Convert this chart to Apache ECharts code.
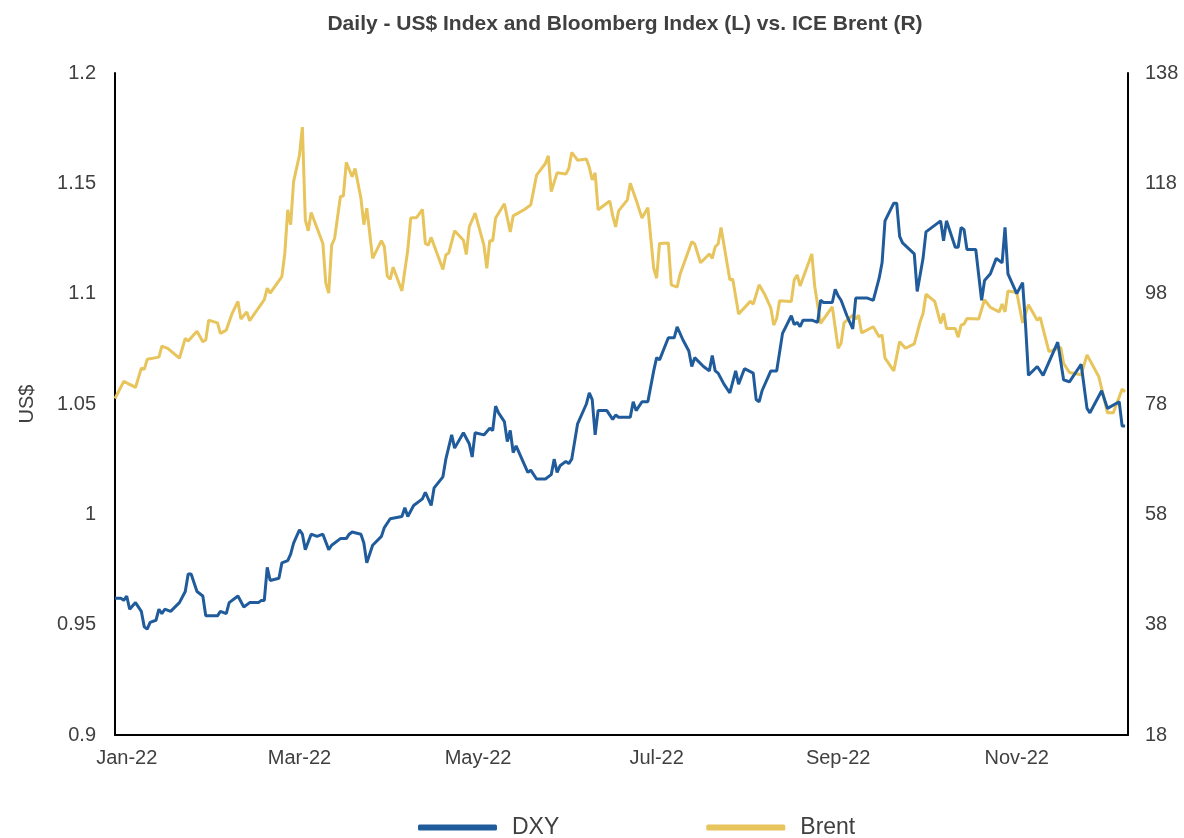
<!DOCTYPE html>
<html><head><meta charset="utf-8">
<script src="https://cdn.jsdelivr.net/npm/echarts@6/dist/echarts.min.js"></script>
<style>html,body{margin:0;padding:0;background:#fff}#c{width:1184px;height:838px}</style>
</head><body><div id="c"></div>
<script>
// Days are counted from 2022-01-01 (day 0)
const startDay = -4, endDay = 342;
const tickDates = ['2022-01-01','2022-03-01','2022-05-01','2022-07-01','2022-09-01','2022-11-01'];
const tickLabels = ['Jan-22','Mar-22','May-22','Jul-22','Sep-22','Nov-22'];

const dxyDays = [-4,-2,-1,0,1,3,5,6,7,8,10,11,12,13,15,18,20,21,22,24,26,27,28,31,32,34,35,38,40,42,45,46,47,48,49,52,53,55,56,57,59,60,61,63,65,67,69,70,73,75,76,77,80,81,82,84,87,88,90,94,95,96,98,101,102,104,105,108,109,111,112,115,117,118,119,122,124,125,126,127,129,130,131,132,133,137,138,140,143,145,146,147,148,150,151,152,154,157,158,159,160,161,164,166,167,168,172,173,174,176,178,180,181,182,185,187,188,190,192,193,194,197,199,200,201,202,204,206,208,209,211,214,215,216,217,220,222,224,227,228,229,230,231,234,236,237,238,241,242,243,244,246,247,248,249,250,253,255,257,258,259,262,263,264,265,269,270,272,273,278,279,280,283,284,285,286,287,290,292,293,295,297,299,300,301,304,306,307,308,311,313,318,320,322,326,328,329,333,335,339,340,341];
const dxyValues = [0.962,0.962,0.961,0.963,0.957,0.960,0.956,0.949,0.948,0.951,0.952,0.957,0.955,0.957,0.956,0.960,0.965,0.973,0.973,0.965,0.963,0.954,0.954,0.954,0.956,0.955,0.960,0.963,0.958,0.960,0.960,0.961,0.961,0.976,0.970,0.971,0.978,0.979,0.982,0.987,0.993,0.991,0.984,0.991,0.990,0.991,0.984,0.986,0.989,0.989,0.991,0.992,0.991,0.987,0.978,0.986,0.990,0.994,0.998,0.999,1.003,0.999,1.004,1.007,1.010,1.004,1.012,1.017,1.025,1.036,1.030,1.037,1.032,1.026,1.037,1.036,1.039,1.038,1.049,1.046,1.042,1.033,1.038,1.028,1.031,1.019,1.020,1.016,1.016,1.018,1.025,1.019,1.022,1.024,1.023,1.025,1.041,1.050,1.055,1.052,1.036,1.047,1.047,1.043,1.045,1.044,1.044,1.051,1.047,1.051,1.051,1.065,1.071,1.070,1.080,1.080,1.085,1.079,1.074,1.067,1.071,1.067,1.065,1.072,1.065,1.064,1.059,1.055,1.065,1.059,1.066,1.064,1.052,1.051,1.056,1.065,1.065,1.082,1.090,1.086,1.087,1.085,1.088,1.088,1.087,1.097,1.096,1.096,1.102,1.099,1.097,1.090,1.087,1.084,1.098,1.098,1.098,1.097,1.107,1.114,1.133,1.141,1.141,1.126,1.123,1.118,1.101,1.116,1.128,1.133,1.124,1.133,1.121,1.121,1.130,1.129,1.120,1.120,1.097,1.106,1.109,1.116,1.114,1.130,1.109,1.100,1.105,1.086,1.063,1.067,1.063,1.078,1.061,1.060,1.068,1.048,1.046,1.056,1.048,1.051,1.040,1.040];

const brentDays = [-4,-1,3,5,6,7,11,12,14,18,20,21,24,26,27,28,31,32,34,36,38,39,41,42,45,47,48,49,53,54,55,56,57,59,60,61,62,63,67,68,69,70,71,73,74,75,77,78,80,81,82,84,87,88,89,90,91,94,96,97,99,101,102,103,104,108,109,110,112,115,116,117,119,122,123,124,125,126,129,131,132,136,138,140,143,144,145,147,150,151,152,154,157,158,159,160,161,165,166,167,168,171,172,174,176,178,180,181,182,185,186,188,189,193,194,196,199,200,201,202,203,206,207,209,213,214,216,218,220,221,222,223,227,228,229,230,234,235,237,241,243,244,245,248,249,250,251,255,257,258,259,262,264,266,269,271,272,273,276,278,279,280,283,284,285,286,287,291,293,295,298,299,300,301,304,306,308,311,312,315,319,320,322,326,328,332,335,337,340,341];
const brentValues = [79.0,82.1,81.0,84.5,84.3,86.1,86.5,88.5,88.1,86.3,89.9,89.4,91.2,89.3,89.6,93.2,92.7,90.8,91.4,94.4,96.6,93.4,94.7,93.1,95.4,96.9,99.0,98.1,101.1,105.3,113.2,110.5,118.3,123.1,128.2,111.4,109.4,112.7,107.1,99.9,98.1,106.8,108.0,115.6,115.7,121.8,119.2,120.7,115.3,110.5,113.5,104.4,107.6,106.5,101.2,100.6,102.8,98.5,105.9,111.7,111.8,113.3,107.1,106.8,108.2,102.4,105.0,105.4,109.4,107.7,105.1,110.1,112.6,106.8,102.6,107.6,107.6,111.7,114.3,109.2,112.1,113.3,114.1,119.5,121.6,123.0,116.5,119.9,119.7,120.7,123.6,122.2,122.4,120.9,118.6,119.9,113.2,114.8,112.1,110.1,113.0,115.0,118.0,115.0,111.7,113.6,102.6,100.8,107.1,107.2,99.6,99.2,101.5,107.4,107.0,103.6,105.2,104.4,106.5,107.0,110.0,100.5,100.6,94.3,96.6,96.1,99.6,97.8,95.4,92.3,93.5,96.7,96.6,100.5,101.4,99.4,105.2,99.3,92.6,95.6,88.1,89.0,92.7,94.1,93.4,94.1,90.9,92.0,90.2,90.5,86.3,84.0,89.3,88.1,88.9,92.9,94.4,97.9,96.6,92.6,94.4,91.7,91.7,90.1,92.3,92.5,93.5,93.4,96.9,95.5,94.7,96.1,94.7,98.5,98.2,92.7,96.0,93.2,93.7,87.5,88.3,85.4,83.7,83.3,86.9,83.0,76.4,76.4,80.7,80.2];

const categories = [];
for (let d = startDay; d <= endDay; d++) {
  categories.push(new Date(Date.UTC(2022, 0, 1 + d)).toISOString().slice(0, 10));
}
const toSeries = (days, vals) => days.map((d, i) => [d - startDay, vals[i]]);

const labelColor = '#404040';
const font = 'Liberation Sans, Arial, Helvetica, sans-serif';
const chart = echarts.init(document.getElementById('c'));
chart.setOption({
  animation: false,
  backgroundColor: '#fff',
  title: {
    text: 'Daily - US$ Index and Bloomberg Index (L) vs. ICE Brent (R)',
    left: 620, top: 9, textAlign: 'center',
    textStyle: { fontFamily: font, fontSize: 21, fontWeight: 'bold', color: '#404040' }
  },
  legend: {
    left: 413, top: 811,
    itemWidth: 79, itemHeight: 6, itemGap: 147, icon: 'roundRect',
    textStyle: { fontFamily: font, fontSize: 23, color: labelColor, padding: [0, 0, 0, 10] },
    data: ['DXY', 'Brent']
  },
  grid: { left: 115, right: 56, top: 73, bottom: 103, containLabel: false },
  xAxis: {
    type: 'category', data: categories, boundaryGap: false,
    axisLine: { show: true, lineStyle: { color: '#000', width: 2 } },
    axisTick: { show: false },
    splitLine: { show: false },
    axisLabel: {
      interval: (i, v) => tickDates.includes(v),
      formatter: v => tickLabels[tickDates.indexOf(v)],
      fontFamily: font, fontSize: 20, color: labelColor, margin: 13
    }
  },
  yAxis: [{
    type: 'value', min: 0.9, max: 1.2, interval: 0.05, position: 'left',
    name: 'US$', nameLocation: 'middle', nameRotate: 90, nameGap: 78,
    nameTextStyle: { fontFamily: font, fontSize: 20, color: labelColor },
    axisLine: { show: true, lineStyle: { color: '#000', width: 2 } },
    axisTick: { show: false }, splitLine: { show: false },
    axisLabel: { formatter: v => String(+v.toFixed(2)), fontFamily: font, fontSize: 20, color: labelColor, margin: 19 }
  }, {
    type: 'value', min: 18, max: 138, interval: 20, position: 'right',
    axisLine: { show: true, lineStyle: { color: '#000', width: 2 } },
    axisTick: { show: false }, splitLine: { show: false },
    axisLabel: { fontFamily: font, fontSize: 20, color: labelColor, margin: 17 }
  }],
  series: [{
    name: 'DXY', type: 'line', yAxisIndex: 0, showSymbol: false, symbol: 'none',
    lineStyle: { color: '#205C9B', width: 3 }, itemStyle: { color: '#205C9B' },
    data: toSeries(dxyDays, dxyValues), z: 3
  }, {
    name: 'Brent', type: 'line', yAxisIndex: 1, showSymbol: false, symbol: 'none',
    lineStyle: { color: '#E8C45C', width: 3 }, itemStyle: { color: '#E8C45C' },
    data: toSeries(brentDays, brentValues), z: 2
  }]
});
</script></body></html>
